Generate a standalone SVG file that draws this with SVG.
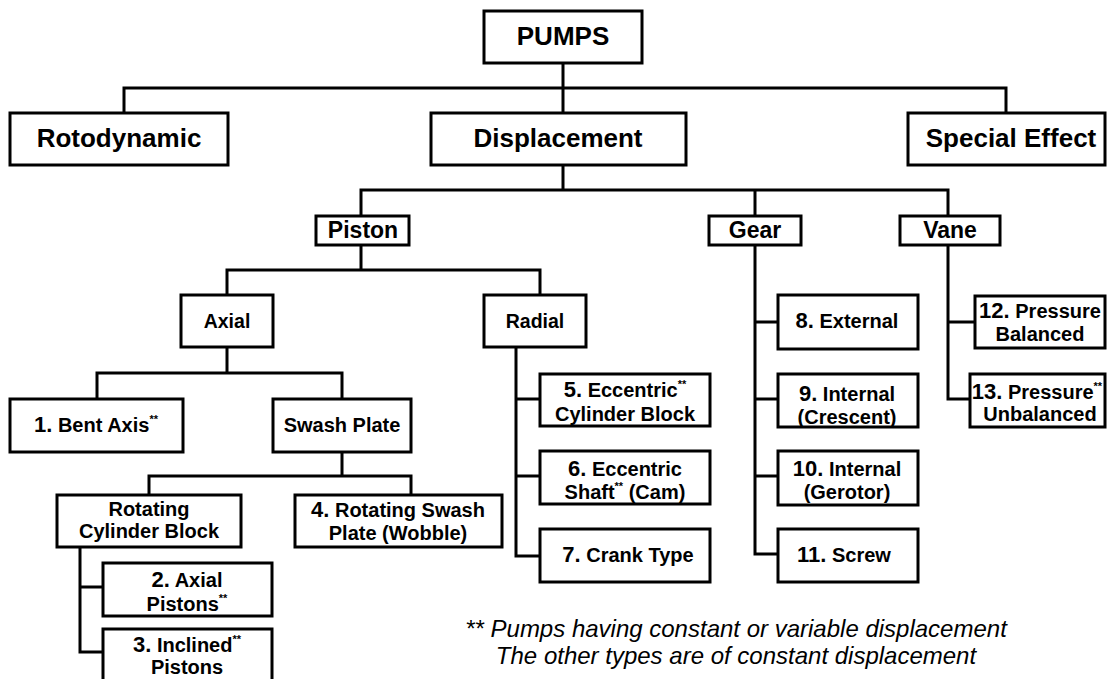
<svg xmlns="http://www.w3.org/2000/svg" width="1107" height="679" viewBox="0 0 1107 679">
<style>
.b{fill:#fff;stroke:#000;stroke-width:3}
.c{fill:none;stroke:#000;stroke-width:3;stroke-linecap:square}
text{font-family:"Liberation Sans",Arial,sans-serif;font-weight:bold;fill:#000;text-anchor:middle}
.t1{font-size:26px}
.t2{font-size:23px}
.t3{font-size:19.5px}
.lf{font-size:20px}
.n{font-size:22px}
.s{font-size:11px}
.note{font-weight:normal;font-style:italic;font-size:24px}
</style>
<rect width="1107" height="679" fill="#fff"/>
<g id="connectors">
<path class="c" d="M563 63V113M124 113V88H1006V113"/>
<path class="c" d="M563 165V190M361 216V190H948V216M755 190V216"/>
<path class="c" d="M361 245V270M227 295V270H540V295"/>
<path class="c" d="M227 347V373M97 399V373H342V399"/>
<path class="c" d="M342 452V476M149 495V476H411V495"/>
<path class="c" d="M80 547V652H103M80 587H103"/>
<path class="c" d="M516 347V556H540M516 399H540M516 476H540"/>
<path class="c" d="M755 245V554H778M755 322H778M755 399H778M755 476H778"/>
<path class="c" d="M948 245V399H970M948 322H975"/>
</g>
<g id="pumps"><rect class="b" x="484" y="11" width="158" height="52"/><text class="t1" x="563" y="45">PUMPS</text></g>
<g id="rotodynamic"><rect class="b" x="10" y="113" width="218" height="52"/><text class="t1" x="119" y="147">Rotodynamic</text></g>
<g id="displacement"><rect class="b" x="431" y="113" width="255" height="52"/><text class="t1" x="558" y="147">Displacement</text></g>
<g id="special"><rect class="b" x="908" y="113" width="197" height="52"/><text class="t1" x="1011" y="147">Special Effect</text></g>
<g id="piston"><rect class="b" x="316" y="216" width="93" height="29"/><text class="t2" x="363" y="238">Piston</text></g>
<g id="gear"><rect class="b" x="709" y="216" width="92" height="29"/><text class="t2" x="755" y="238">Gear</text></g>
<g id="vane"><rect class="b" x="900" y="216" width="100" height="29"/><text class="t2" x="950" y="238">Vane</text></g>
<g id="axial"><rect class="b" x="181" y="295" width="92" height="52"/><text class="t3" x="227" y="328">Axial</text></g>
<g id="radial"><rect class="b" x="484" y="295" width="102" height="52"/><text class="t3" x="535" y="328">Radial</text></g>
<g id="bent"><rect class="b" x="10" y="399" width="173" height="53"/><text class="lf" x="96" y="432"><tspan class="n">1.</tspan> Bent Axis<tspan class="s" dy="-9">**</tspan></text></g>
<g id="swash"><rect class="b" x="273" y="399" width="138" height="53"/><text class="lf" x="342" y="432">Swash Plate</text></g>
<g id="rcb"><rect class="b" x="57" y="495" width="184" height="52"/><text class="lf" x="149" y="516">Rotating</text><text class="lf" x="149" y="538">Cylinder Block</text></g>
<g id="n4"><rect class="b" x="295" y="495" width="207" height="52"/><text class="lf" x="398" y="517"><tspan class="n">4.</tspan> Rotating Swash</text><text class="lf" x="398" y="540">Plate (Wobble)</text></g>
<g id="n2"><rect class="b" x="103" y="563" width="169" height="53"/><text class="lf" x="187" y="587"><tspan class="n">2.</tspan> Axial</text><text class="lf" x="187" y="611">Pistons<tspan class="s" dy="-9">**</tspan></text></g>
<g id="n3"><rect class="b" x="103" y="629" width="169" height="60"/><text class="lf" x="187" y="652"><tspan class="n">3.</tspan> Inclined<tspan class="s" dy="-9">**</tspan></text><text class="lf" x="187" y="674">Pistons</text></g>
<g id="n5"><rect class="b" x="540" y="374" width="170" height="52"/><text class="lf" x="625" y="397"><tspan class="n">5.</tspan> Eccentric<tspan class="s" dy="-9">**</tspan></text><text class="lf" x="625" y="421">Cylinder Block</text></g>
<g id="n6"><rect class="b" x="540" y="451" width="170" height="53"/><text class="lf" x="625" y="476"><tspan class="n">6.</tspan> Eccentric</text><text class="lf" x="625" y="499">Shaft<tspan class="s" dy="-9">**</tspan><tspan dy="9"> (Cam)</tspan></text></g>
<g id="n7"><rect class="b" x="540" y="529" width="170" height="53"/><text class="lf" x="628" y="562"><tspan class="n">7.</tspan> Crank Type</text></g>
<g id="n8"><rect class="b" x="778" y="295" width="140" height="54"/><text class="lf" x="847" y="328"><tspan class="n">8.</tspan> External</text></g>
<g id="n9"><rect class="b" x="778" y="374" width="140" height="53"/><text class="lf" x="847" y="401"><tspan class="n">9.</tspan> Internal</text><text class="lf" x="847" y="424">(Crescent)</text></g>
<g id="n10"><rect class="b" x="778" y="451" width="140" height="54"/><text class="lf" x="847" y="476"><tspan class="n">10.</tspan> Internal</text><text class="lf" x="847" y="499">(Gerotor)</text></g>
<g id="n11"><rect class="b" x="778" y="529" width="140" height="53"/><text class="lf" x="844" y="562"><tspan class="n">11.</tspan> Screw</text></g>
<g id="n12"><rect class="b" x="975" y="296" width="130" height="52"/><text class="lf" x="1040" y="318"><tspan class="n">12.</tspan> Pressure</text><text class="lf" x="1040" y="341">Balanced</text></g>
<g id="n13"><rect class="b" x="970" y="374" width="135" height="53"/><text class="lf" x="1037" y="399"><tspan class="n">13.</tspan> Pressure<tspan class="s" dy="-9">**</tspan></text><text class="lf" x="1040" y="421">Unbalanced</text></g>
<g id="note"><text class="note" x="736" y="637">** Pumps having constant or variable displacement</text><text class="note" x="736" y="664">The other types are of constant displacement</text></g>
</svg>
